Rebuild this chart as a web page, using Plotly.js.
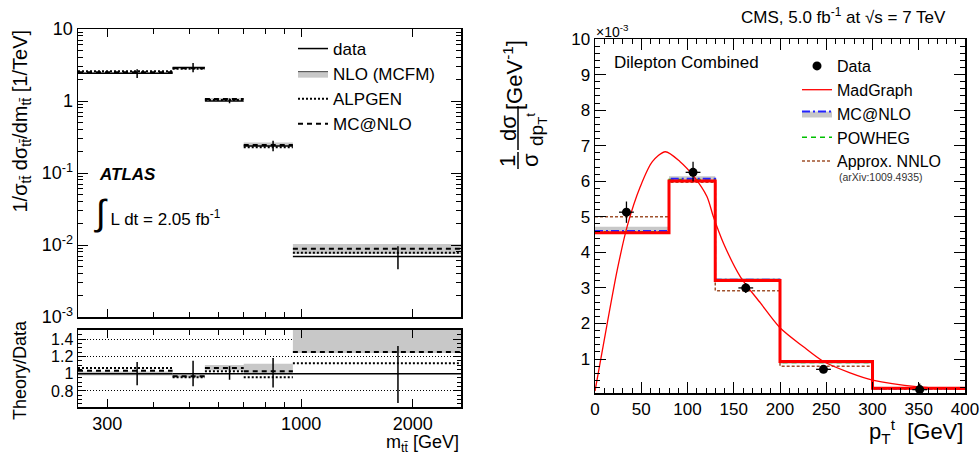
<!DOCTYPE html>
<html>
<head>
<meta charset="utf-8">
<script src="https://cdn.plot.ly/plotly-3.0.1.min.js"></script>
<style>html,body{margin:0;padding:0;background:#fff;}#plot{width:979px;height:455px;}</style>
</head>
<body>
<div id="plot"></div>
<script>
// ---------- Left panel (ATLAS, m_ttbar) ----------
const mEdges   = [250, 450, 550, 700, 950, 2700];
const mPoint   = [361, 511, 641, 840, 1825];
const mData    = [2.42, 2.93, 1.0, 0.238, 0.0069];
const mErrUp   = [0.33, 0.44, 0.085, 0.043, 0.0027];
const mErrDn   = [0.33, 0.43, 0.07, 0.038, 0.0023];
const mNloLo   = [2.38, 2.82, 1.04, 0.236, 0.0075];
const mNloHi   = [2.48, 2.90, 1.10, 0.265, 0.0103];
const mAlpgen  = [2.58, 2.81, 1.03, 0.228, 0.0078];
const mMcnlo   = [2.50, 2.84, 1.07, 0.245, 0.0089];
// ratio panel (Theory/Data)
const rData    = [1, 1, 1, 1, 1];
const rErrUp   = [0.135, 0.15, 0.085, 0.18, 0.32];
const rErrDn   = [0.134, 0.145, 0.07, 0.16, 0.34];
const rNloLo   = [0.98, 0.955, 1.04, 0.99, 1.24];
const rNloHi   = [1.026, 0.985, 1.10, 1.115, 1.51];
const rAlpgen  = [1.066, 0.958, 1.027, 0.958, 1.12];
const rMcnlo   = [1.035, 0.97, 1.066, 1.027, 1.25];
const mTickVals = [300, 1000, 2000];
const mTickText = ['300', '1000', '2000'];
const mMinorVals = [400, 500, 600, 700, 800, 900];
const yLogTickVals = [0.001, 0.01, 0.1, 1, 10];
const yLogTickText = ['10<sup>-3</sup>', '10<sup>-2</sup>', '10<sup>-1</sup>', '1', '10'];
const rTickVals = [0.8, 1, 1.2, 1.4];
const rTickText = ['0.8', '1', '1.2', '1.4'];

// ---------- Right panel (CMS, pT top) ----------
const ptEdges     = [0, 80, 130, 200, 300, 400];
const ptData      = [34, 106, 163, 247, 351];
const dataVal     = [5.13, 6.25, 3.0, 0.71, 0.14];
const dataErrUp   = [0.3, 0.3, 0.14, 0.06, 0.17];
const dataErrDn   = [0.3, 0.26, 0.14, 0.06, 0.1];
const dataErrX    = [8, 8, 8, 8, 8];
const madgraphHist= [4.55, 6.01, 3.21, 0.93, 0.18];
const mcnloHist   = [4.60, 6.07, 3.23, 0.92, 0.17];
const mcnloLo     = [4.53, 6.00, 3.17, 0.87, 0.15];
const mcnloHi     = [4.72, 6.14, 3.28, 0.97, 0.20];
const powhegHist  = [4.58, 6.05, 3.20, 0.90, 0.17];
const nnloHist    = [5.00, 5.97, 2.92, 0.80, 0.16];
const curvePt  = [0, 8, 24, 35, 49, 62, 76, 92, 107, 121, 128, 139, 157, 179, 200, 225, 247, 275, 300, 350, 400];
const curveVal = [0.1, 1.25, 3.5, 4.75, 5.85, 6.55, 6.83, 6.55, 6.13, 5.57, 5.0, 4.25, 3.32, 2.57, 1.88, 1.35, 0.93, 0.62, 0.41, 0.22, 0.15];
const ptTickVals = [0, 50, 100, 150, 200, 250, 300, 350, 400];
const yTickVals  = [1, 2, 3, 4, 5, 6, 7, 8, 9, 10];

// ---------- helpers (build shapes the library needs from the arrays) ----------
function segs(edges, vals) {
  const x = [], y = [];
  for (let i = 0; i < vals.length; i++) { x.push(edges[i], edges[i+1], null); y.push(vals[i], vals[i], null); }
  return {x, y};
}
function boxes(edges, lo, hi) {
  const x = [], y = [];
  for (let i = 0; i < lo.length; i++) {
    x.push(edges[i], edges[i+1], edges[i+1], edges[i], edges[i], null);
    y.push(lo[i], lo[i], hi[i], hi[i], lo[i], null);
  }
  return {x, y};
}
function steps(edges, vals) { return {x: edges.slice(), y: vals.concat([vals[vals.length-1]])}; }
function logMinor(lo, hi) { const v = []; for (let e = lo; e < hi; e++) for (let k = 2; k <= 9; k++) v.push(k * Math.pow(10, e)); return v; }

const GREY = '#c8c8c8';
const FONT = 'Liberation Sans, Arial, Helvetica, sans-serif';
const traces = [];

// Left top
let b = boxes(mEdges, mNloLo, mNloHi);
traces.push({x: b.x, y: b.y, xaxis: 'x', yaxis: 'y', mode: 'lines', fill: 'toself', fillcolor: GREY, line: {width: 0}, showlegend: false, hoverinfo: 'skip'});
let s = segs(mEdges, mData);
traces.push({x: s.x, y: s.y, xaxis: 'x', yaxis: 'y', mode: 'lines', line: {color: '#000', width: 1.5}, name: 'data', legend: 'legend', legendrank: 1});
traces.push({x: [null], y: [null], xaxis: 'x', yaxis: 'y', mode: 'lines', fill: 'toself', fillcolor: GREY, line: {color: '#444', width: 1}, name: 'NLO (MCFM)', legend: 'legend', legendrank: 2});
s = segs(mEdges, mAlpgen);
traces.push({x: s.x, y: s.y, xaxis: 'x', yaxis: 'y', mode: 'lines', line: {color: '#000', width: 2, dash: '2px,2px'}, name: 'ALPGEN', legend: 'legend', legendrank: 3});
s = segs(mEdges, mMcnlo);
traces.push({x: s.x, y: s.y, xaxis: 'x', yaxis: 'y', mode: 'lines', line: {color: '#000', width: 2, dash: '5px,4px'}, name: 'MC@NLO', legend: 'legend', legendrank: 4});
traces.push({x: mPoint, y: mData, xaxis: 'x', yaxis: 'y', mode: 'markers', marker: {size: 1, color: '#000'}, showlegend: false,
  error_y: {type: 'data', symmetric: false, array: mErrUp, arrayminus: mErrDn, color: '#000', thickness: 1.5, width: 0}});

// Left ratio
b = boxes(mEdges, rNloLo, rNloHi);
traces.push({x: b.x, y: b.y, xaxis: 'x2', yaxis: 'y2', mode: 'lines', fill: 'toself', fillcolor: GREY, line: {width: 0}, showlegend: false, hoverinfo: 'skip'});
s = segs(mEdges, rData);
traces.push({x: s.x, y: s.y, xaxis: 'x2', yaxis: 'y2', mode: 'lines', line: {color: '#000', width: 1.5}, showlegend: false});
s = segs(mEdges, rAlpgen);
traces.push({x: s.x, y: s.y, xaxis: 'x2', yaxis: 'y2', mode: 'lines', line: {color: '#000', width: 2, dash: '2px,2px'}, showlegend: false});
s = segs(mEdges, rMcnlo);
traces.push({x: s.x, y: s.y, xaxis: 'x2', yaxis: 'y2', mode: 'lines', line: {color: '#000', width: 2, dash: '5px,4px'}, showlegend: false});
traces.push({x: mPoint, y: rData, xaxis: 'x2', yaxis: 'y2', mode: 'markers', marker: {size: 1, color: '#000'}, showlegend: false,
  error_y: {type: 'data', symmetric: false, array: rErrUp, arrayminus: rErrDn, color: '#000', thickness: 1.5, width: 0}});

// Right panel
b = boxes(ptEdges, mcnloLo, mcnloHi);
traces.push({x: b.x, y: b.y, xaxis: 'x3', yaxis: 'y3', mode: 'lines', fill: 'toself', fillcolor: GREY, line: {width: 0}, showlegend: false, hoverinfo: 'skip'});
let st = steps(ptEdges, nnloHist);
traces.push({x: st.x, y: st.y, xaxis: 'x3', yaxis: 'y3', mode: 'lines', line: {shape: 'hv', color: '#a0522d', width: 1.5, dash: '3px,2px'}, name: 'Approx. NNLO', legend: 'legend2', legendrank: 5});
st = steps(ptEdges, powhegHist);
traces.push({x: st.x, y: st.y, xaxis: 'x3', yaxis: 'y3', mode: 'lines', line: {shape: 'hv', color: '#00c000', width: 1.5, dash: '5px,4px'}, name: 'POWHEG', legend: 'legend2', legendrank: 4});
st = steps(ptEdges, mcnloHist);
traces.push({x: st.x, y: st.y, xaxis: 'x3', yaxis: 'y3', mode: 'lines', line: {shape: 'hv', color: '#2222ff', width: 1.8, dash: '8px,3px,2px,3px'}, showlegend: false});
traces.push({x: [null], y: [null], xaxis: 'x3', yaxis: 'y3', mode: 'lines', fill: 'toself', fillcolor: GREY, line: {color: '#2222ff', width: 1.8, dash: '8px,3px,2px,3px'}, name: 'MC@NLO', legend: 'legend2', legendrank: 3});
st = steps(ptEdges, madgraphHist);
traces.push({x: st.x, y: st.y, xaxis: 'x3', yaxis: 'y3', mode: 'lines', line: {shape: 'hv', color: '#ff0000', width: 3}, showlegend: false});
traces.push({x: curvePt, y: curveVal, xaxis: 'x3', yaxis: 'y3', mode: 'lines', line: {shape: 'spline', smoothing: 0.8, color: '#ff0000', width: 1.3}, name: 'MadGraph', legend: 'legend2', legendrank: 2});
traces.push({x: ptData, y: dataVal, xaxis: 'x3', yaxis: 'y3', mode: 'markers', marker: {size: 9, color: '#000'}, name: 'Data', legend: 'legend2', legendrank: 1,
  error_y: {type: 'data', symmetric: false, array: dataErrUp, arrayminus: dataErrDn, color: '#000', thickness: 1.3, width: 0},
  error_x: {type: 'data', array: dataErrX, color: '#000', thickness: 1.3, width: 0}});

const W = 979, H = 455;
const px = v => v / W, py = v => 1 - v / H;
const axBase = {showline: true, linecolor: '#000', linewidth: 1.5, mirror: 'allticks', ticks: 'inside', tickcolor: '#000', tickwidth: 1, showgrid: false, zeroline: false, ticklabeloverflow: 'allow', tickfont: {family: FONT, size: 18, color: '#000'}};

const layout = {
  width: W, height: H, margin: {l: 0, r: 0, t: 0, b: 0}, paper_bgcolor: '#fff', plot_bgcolor: 'rgba(0,0,0,0)',
  font: {family: FONT, color: '#000'},
  xaxis: Object.assign({}, axBase, {type: 'log', range: [Math.log10(mEdges[0]), Math.log10(mEdges[5])], domain: [px(78), px(461)], anchor: 'y',
    tickvals: mTickVals, ticktext: mTickText, showticklabels: false, ticklen: 8, minor: {tickvals: mMinorVals, ticks: 'inside', ticklen: 5, tickcolor: '#000'}}),
  yaxis: Object.assign({}, axBase, {type: 'log', range: [-3, 1], domain: [py(317), py(29)], anchor: 'x',
    tickvals: yLogTickVals, ticktext: yLogTickText, ticklen: 10, minor: {tickvals: logMinor(-3, 1), ticks: 'inside', ticklen: 5, tickcolor: '#000'}}),
  xaxis2: Object.assign({}, axBase, {type: 'log', range: [Math.log10(mEdges[0]), Math.log10(mEdges[5])], domain: [px(78), px(461)], anchor: 'y2',
    tickvals: mTickVals, ticktext: mTickText, ticklen: 8, minor: {tickvals: mMinorVals, ticks: 'inside', ticklen: 5, tickcolor: '#000'}}),
  yaxis2: Object.assign({}, axBase, {range: [0.615, 1.51], domain: [py(407), py(329.5)], anchor: 'x2',
    tickvals: rTickVals, ticktext: rTickText, ticklen: 8, tickfont: {family: FONT, size: 16, color: '#000'},
    showgrid: true, gridcolor: '#000', gridwidth: 1, griddash: '1px,2px',
    minor: {dtick: 0.05, tick0: 0, ticks: 'inside', ticklen: 4, tickcolor: '#000'}}),
  xaxis3: Object.assign({}, axBase, {range: [0, 400], domain: [px(595), px(965)], anchor: 'y3',
    tickvals: ptTickVals, ticklen: 11, tickfont: {family: FONT, size: 17, color: '#000'}, minor: {dtick: 10, tick0: 0, ticks: 'inside', ticklen: 5, tickcolor: '#000'}}),
  yaxis3: Object.assign({}, axBase, {range: [0.045, 10], domain: [py(393), py(39)], anchor: 'x3',
    tickvals: yTickVals, ticklen: 11, tickfont: {family: FONT, size: 17, color: '#000'}, minor: {dtick: 0.2, tick0: 0, ticks: 'inside', ticklen: 5, tickcolor: '#000'}}),
  legend: {x: px(293), y: py(31), xanchor: 'left', yanchor: 'top', bgcolor: 'rgba(0,0,0,0)', font: {family: FONT, size: 17, color: '#000'}, traceorder: 'normal'},
  legend2: {x: px(797), y: py(49), xanchor: 'left', yanchor: 'top', bgcolor: 'rgba(0,0,0,0)', font: {family: FONT, size: 16, color: '#000'}, traceorder: 'normal'},
  shapes: [
    {type: 'line', xref: 'paper', yref: 'paper', x0: px(518), x1: px(518), y0: py(106), y1: py(150), line: {color: '#000', width: 1.5}},
    {type: 'line', xref: 'paper', yref: 'paper', x0: px(518), x1: px(518), y0: py(152), y1: py(169), line: {color: '#000', width: 1.5}}
  ],
  annotations: [
    {xref: 'paper', yref: 'paper', x: px(21), y: py(28), xanchor: 'center', yanchor: 'top', textangle: -90, showarrow: false,
      text: '1/σ<sub>tt̄</sub> dσ<sub>tt̄</sub>/dm<sub>tt̄</sub> [1/TeV]', font: {family: FONT, size: 20}},
    {xref: 'paper', yref: 'paper', x: px(20), y: py(370), xanchor: 'center', yanchor: 'middle', textangle: -90, showarrow: false,
      text: 'Theory/Data', font: {family: FONT, size: 18}},
    {xref: 'paper', yref: 'paper', x: px(461), y: py(443), xanchor: 'right', yanchor: 'middle', showarrow: false,
      text: 'm<sub>tt̄</sub> [GeV]', font: {family: FONT, size: 18}},
    {xref: 'paper', yref: 'paper', x: px(97), y: py(175), xanchor: 'left', yanchor: 'middle', showarrow: false,
      text: '<b><i>ATLAS</i></b>', font: {family: FONT, size: 17}},
    {xref: 'paper', yref: 'paper', x: px(92), y: py(212), xanchor: 'left', yanchor: 'middle', showarrow: false,
      text: '<span style="font-size:36px">∫</span> L dt = 2.05 fb<sup>-1</sup>', font: {family: FONT, size: 17}},
    {xref: 'paper', yref: 'paper', x: px(843), y: py(16), xanchor: 'center', yanchor: 'middle', showarrow: false,
      text: 'CMS, 5.0 fb<sup>-1</sup> at √s = 7 TeV', font: {family: FONT, size: 17}},
    {xref: 'paper', yref: 'paper', x: px(594), y: py(31), xanchor: 'left', yanchor: 'middle', showarrow: false,
      text: '×10<sup>-3</sup>', font: {family: FONT, size: 14}},
    {xref: 'paper', yref: 'paper', x: px(612), y: py(63), xanchor: 'left', yanchor: 'middle', showarrow: false,
      text: 'Dilepton Combined', font: {family: FONT, size: 17}},
    {xref: 'paper', yref: 'paper', x: px(837), y: py(177), xanchor: 'left', yanchor: 'middle', showarrow: false,
      text: '(arXiv:1009.4935)', font: {family: FONT, size: 10.5, color: '#333'}},
    {xref: 'paper', yref: 'paper', x: px(965), y: py(431), xanchor: 'right', yanchor: 'middle', showarrow: false,
      text: 'p<sub>T</sub><sup>t</sup>  [GeV]', font: {family: FONT, size: 22}},
    {xref: 'paper', yref: 'paper', x: px(513), y: py(38), xanchor: 'center', yanchor: 'top', textangle: -90, showarrow: false,
      text: '[GeV<sup>-1</sup>]', font: {family: FONT, size: 22}},
    {xref: 'paper', yref: 'paper', x: px(508), y: py(128), xanchor: 'center', yanchor: 'middle', textangle: -90, showarrow: false,
      text: 'dσ', font: {family: FONT, size: 22}},
    {xref: 'paper', yref: 'paper', x: px(536), y: py(130), xanchor: 'center', yanchor: 'middle', textangle: -90, showarrow: false,
      text: 'dp<sub>T</sub><sup>t</sup>', font: {family: FONT, size: 19}},
    {xref: 'paper', yref: 'paper', x: px(507), y: py(161), xanchor: 'center', yanchor: 'middle', textangle: -90, showarrow: false,
      text: '1', font: {family: FONT, size: 22}},
    {xref: 'paper', yref: 'paper', x: px(530), y: py(160), xanchor: 'center', yanchor: 'middle', textangle: -90, showarrow: false,
      text: 'σ', font: {family: FONT, size: 22}}
  ]
};

Plotly.newPlot('plot', traces, layout, {staticPlot: true, displayModeBar: false});
</script>
</body>
</html>
